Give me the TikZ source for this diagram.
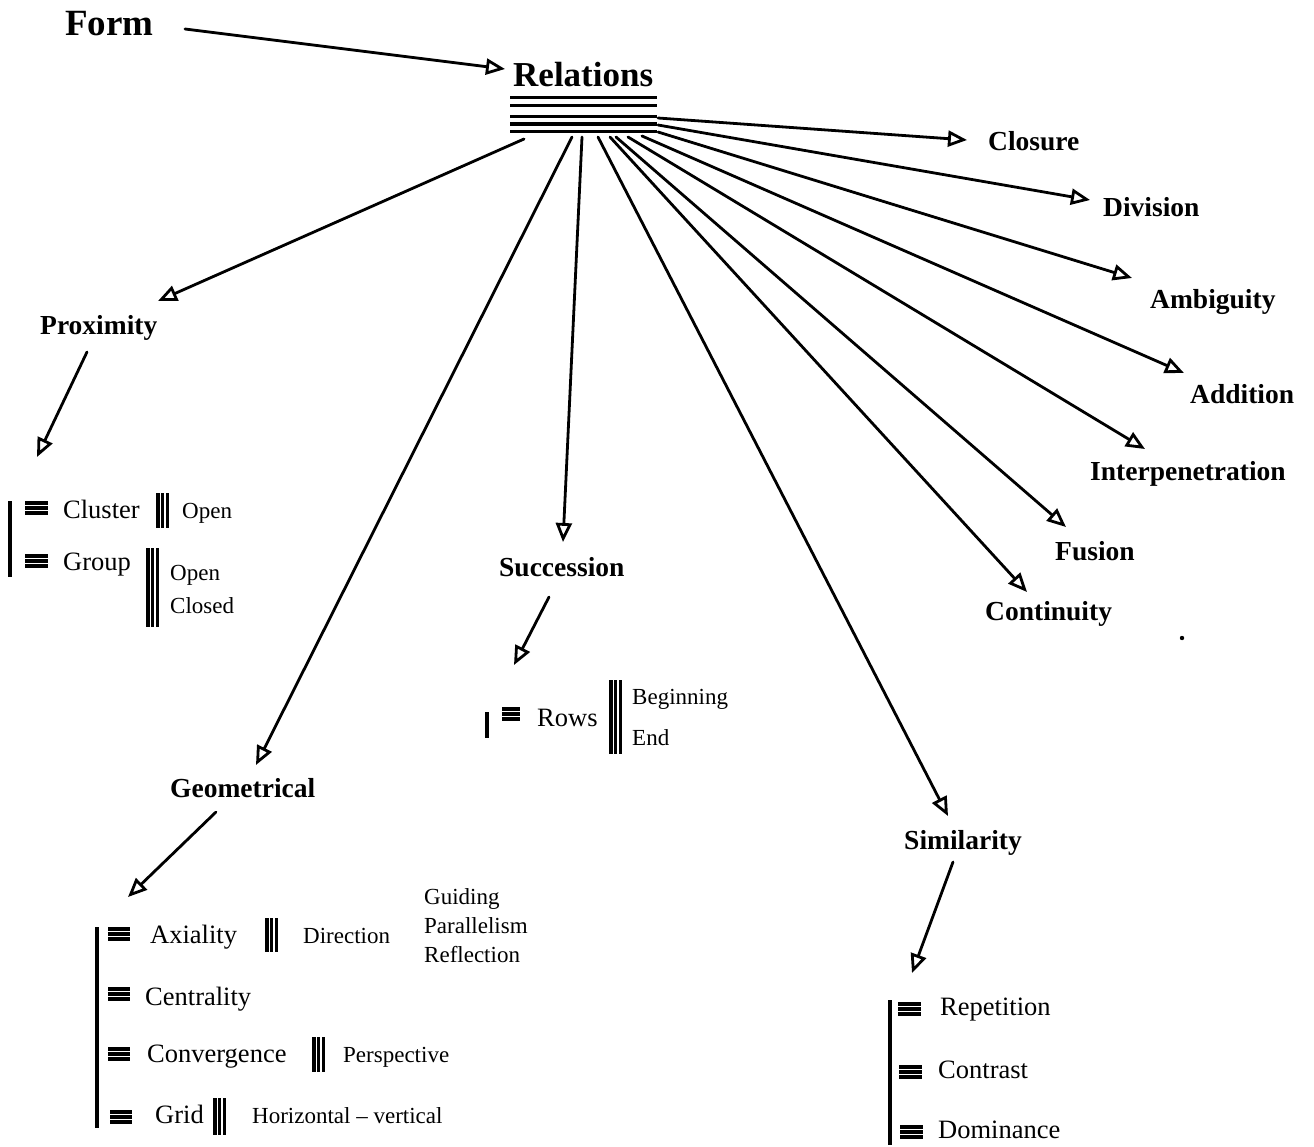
\documentclass[tikz,border=0pt]{standalone}
\usepackage{fontspec}
\setmainfont{Liberation Serif}
\usetikzlibrary{arrows.meta}
\begin{document}
\begin{tikzpicture}[x=1pt,y=-1pt,
  arr/.style={line width=2.8pt, line cap=round,
    -{Triangle[open,length=19pt,width=16pt,line width=2.8pt]}},
  rule/.style={line width=3.4pt},
  head/.style={inner sep=0pt, anchor=base west,
    font=\fontsize{27.5}{30}\selectfont\bfseries},
  item/.style={inner sep=0pt, anchor=base west,
    font=\fontsize{26.5}{30}\selectfont},
  detail/.style={inner sep=0pt, anchor=base west,
    font=\fontsize{23}{26}\selectfont},
  pics/eqv/.style={code={
    \foreach \d in {2,7,12} \draw[line width=3.6pt] (0,\d) -- (#1,\d);}},
  pics/vtri/.style={code={
    \foreach \d in {1.8,6.5,11.2} \draw[line width=3.4pt] (\d,0) -- (\d,#1);}}
]
\useasboundingbox (0,0) rectangle (1314,1146);
\fill[white] (0,0) rectangle (1314,1146);

% ---------- top: Form -> Relations ----------
\node[inner sep=0pt, anchor=base west, font=\fontsize{37}{40}\selectfont\bfseries] (form) at (65,35) {Form};
\node[inner sep=0pt, anchor=base west, font=\fontsize{35}{38}\selectfont\bfseries] (rel) at (513,86) {Relations};
\foreach \yy in {97.5,105.5,116.5,124,131.5}
  \draw[rule] (510,\yy) -- (657,\yy);

\coordinate (form-out) at (185,29);
\coordinate (rel-in) at (505,69);
\draw[arr] (form-out) -- (rel-in);

% ---------- connectors leaving the Relations stack ----------
\coordinate (r-prox) at (524,139);
\coordinate (r-geom) at (572,137);
\coordinate (r-succ) at (582,137);
\coordinate (r-simi) at (598,137);
\coordinate (r-cont) at (610,137);
\coordinate (r-fusi) at (616,137);
\coordinate (r-inte) at (628,137);
\coordinate (r-addi) at (642,136);
\coordinate (r-ambi) at (658,132);
\coordinate (r-divi) at (658,125);
\coordinate (r-clos) at (658,118);

\coordinate (t-clos) at (967,140);
\coordinate (t-divi) at (1090,200);
\coordinate (t-ambi) at (1132,278);
\coordinate (t-addi) at (1184,373);
\coordinate (t-inte) at (1145,449);
\coordinate (t-fusi) at (1066,527);
\coordinate (t-cont) at (1027,592);
\coordinate (t-simi) at (948,816);
\coordinate (t-succ) at (563,542);
\coordinate (t-geom) at (256,765);
\coordinate (t-prox) at (158,301);

\foreach \k in {clos,divi,ambi,addi,inte,fusi,cont,simi,succ,geom,prox}
  \draw[arr] (r-\k) -- (t-\k);

% ---------- right-hand relations ----------
\node[head] (clos) at (988,150) {Closure};
\node[head] (divi) at (1103,216) {Division};
\node[head] (ambi) at (1150,308) {Ambiguity};
\node[head] (addi) at (1190,403) {Addition};
\node[head] (inte) at (1090,480) {Interpenetration};
\node[head] (fusi) at (1055,560) {Fusion};
\node[head] (cont) at (985,620) {Continuity};
\fill (1182,638) circle (2.2);

% ---------- Proximity ----------
\node[head] (prox) at (40,334) {Proximity};
\coordinate (prox-out) at (87,352);
\coordinate (prox-in) at (37,457);
\draw[arr] (prox-out) -- (prox-in);
\draw[rule] (10,501) -- (10,577);
\pic at (25,501) {eqv=23};
\node[item] (cluster) at (63,518) {Cluster};
\pic at (156,493) {vtri=35};
\node[detail] (cl-open) at (182,518) {Open};
\pic at (25,554) {eqv=23};
\node[item] (group) at (63,570) {Group};
\pic at (146,548) {vtri=79};
\node[detail] (gr-open) at (170,580) {Open};
\node[detail] (gr-closed) at (170,613) {Closed};

% ---------- Succession ----------
\node[head] (succ) at (499,576) {Succession};
\coordinate (succ-out) at (549,597);
\coordinate (succ-in) at (514,665);
\draw[arr] (succ-out) -- (succ-in);
\draw[rule] (487,712) -- (487,738);
\pic at (502,707) {eqv=18};
\node[item] (rows) at (537,726) {Rows};
\pic at (609,680) {vtri=74};
\node[detail] (begin) at (632,704) {Beginning};
\node[detail] (end) at (632,745) {End};

% ---------- Geometrical ----------
\node[head] (geom) at (170,797) {Geometrical};
\coordinate (geom-out) at (216,812);
\coordinate (geom-in) at (128,897);
\draw[arr] (geom-out) -- (geom-in);
\draw[rule] (97,927) -- (97,1128);
\pic at (108,927) {eqv=22};
\node[item] (axial) at (150,943) {Axiality};
\pic at (265,918) {vtri=34};
\node[detail] (direc) at (303,943) {Direction};
\node[detail] (guid) at (424,904) {Guiding};
\node[detail] (paral) at (424,933) {Parallelism};
\node[detail] (refl) at (424,962) {Reflection};
\pic at (108,987) {eqv=22};
\node[item] (centr) at (145,1005) {Centrality};
\pic at (108,1047) {eqv=22};
\node[item] (conv) at (147,1062) {Convergence};
\pic at (312,1037) {vtri=35};
\node[detail] (persp) at (343,1062) {Perspective};
\pic at (110,1110) {eqv=22};
\node[item] (grid) at (155,1123) {Grid};
\pic at (213,1098) {vtri=37};
\node[detail] (horiz) at (252,1123) {Horizontal -- vertical};

% ---------- Similarity ----------
\node[head] (simi) at (904,849) {Similarity};
\coordinate (simi-out) at (953,862);
\coordinate (simi-in) at (912,973);
\draw[arr] (simi-out) -- (simi-in);
\draw[rule] (890,1000) -- (890,1145);
\pic at (898,1002) {eqv=23};
\node[item] (repet) at (940,1015) {Repetition};
\pic at (899,1065) {eqv=23};
\node[item] (contr) at (938,1078) {Contrast};
\pic at (900,1125) {eqv=23};
\node[item] (domin) at (938,1138) {Dominance};
\end{tikzpicture}
\end{document}
